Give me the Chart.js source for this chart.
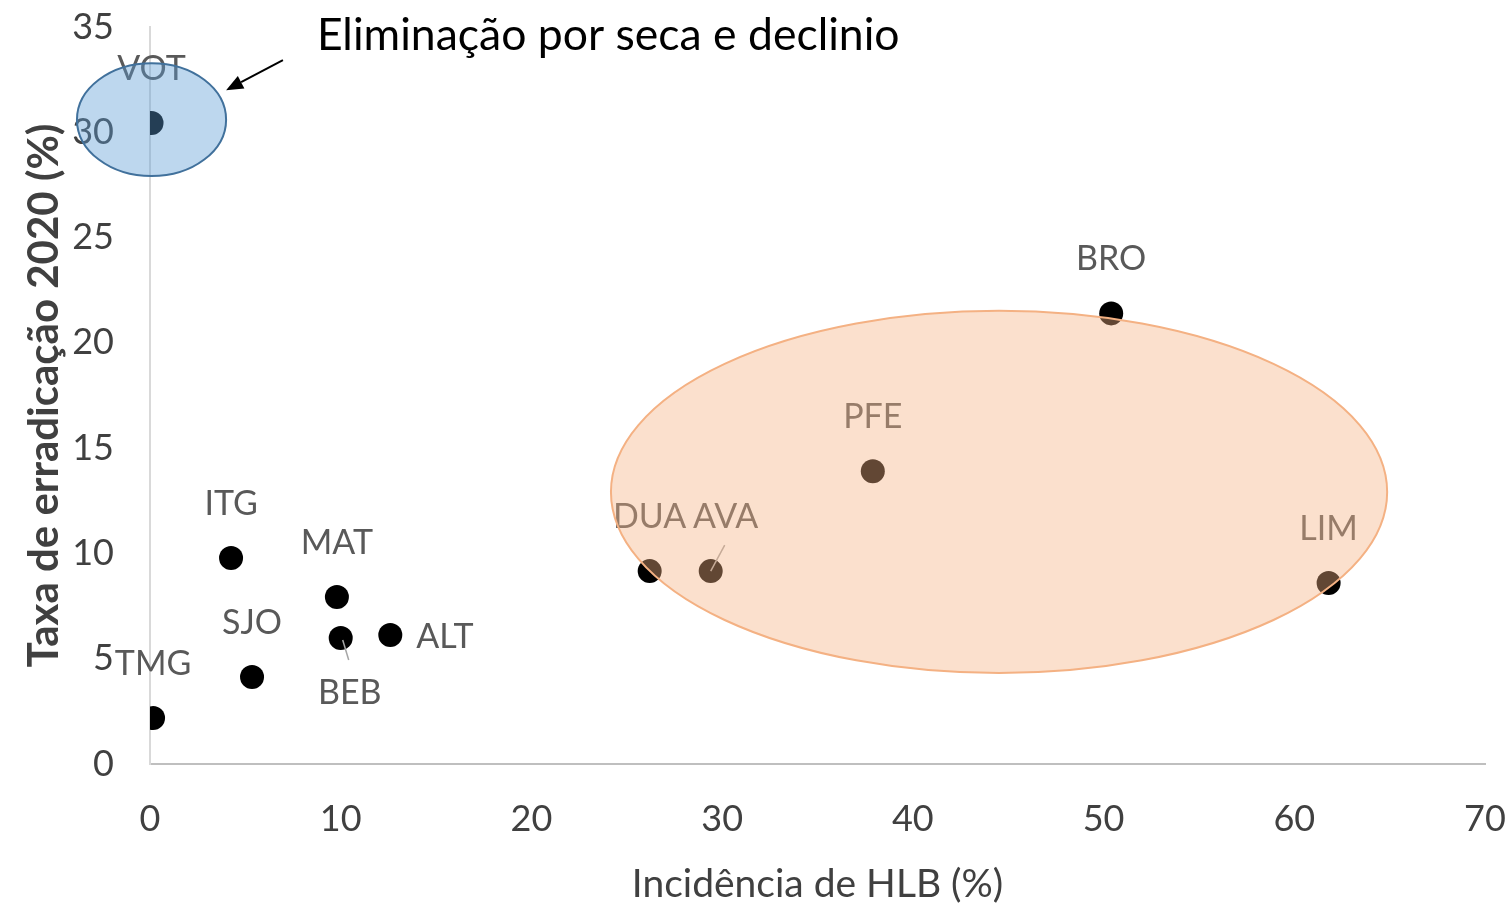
<!DOCTYPE html>
<html>
<head>
<meta charset="utf-8">
<script src="https://cdn.jsdelivr.net/npm/chart.js@4"></script>
<style>
  html, body { margin: 0; padding: 0; background: #ffffff; }
  #wrap { width: 1511px; height: 909px; }
</style>
</head>
<body>
<div id="wrap"><canvas id="c" width="1511" height="909"></canvas></div>
<script>
// ---- data ----
const siteLabels = ['VOT', 'TMG', 'ITG', 'SJO', 'MAT', 'BEB', 'ALT', 'DUA', 'AVA', 'PFE', 'BRO', 'LIM'];
const hlbIncidence = [0.08, 0.16, 4.25, 5.35, 9.8, 10.0, 12.6, 26.2, 29.4, 37.9, 50.4, 61.8];
const eradicationRate = [30.44, 2.18, 9.78, 4.13, 7.93, 5.98, 6.13, 9.16, 9.16, 13.9, 21.4, 8.6];
const xTicks = [0, 10, 20, 30, 40, 50, 60, 70];
const yTicks = [0, 5, 10, 15, 20, 25, 30, 35];
const xTitle = 'Incidência de HLB (%)';
const yTitle = 'Taxa de erradicação 2020 (%)';
const noteText = 'Eliminação por seca e declinio';

// label placement per point (style only)
const labelPlacement = ['above', 'above', 'above', 'above', 'above', 'below', 'right', 'above', 'above', 'above', 'above', 'above'];
const labelShiftX = [0, 0, 0, 0, 0, 9, 0, 0, 15, 0, 0, 0];
const leaderLine = [false, false, false, false, false, true, false, false, true, false, false, false];

// highlighted regions (data units): center x, center y, radius x, radius y
const droughtRegion = { cx: 0.08, cy: 30.6, rx: 3.91, ry: 2.68 };
const hlbRegion = { cx: 44.52, cy: 12.92, rx: 20.35, ry: 8.6 };
// arrow (data units)
const arrowFrom = { x: 6.97, y: 33.43 };
const arrowTo = { x: 3.99, y: 32.0 };
const notePos = { x: 8.75, y: 34.6 };

const FONT = 'Lato, "Open Sans", sans-serif';

const overlayPlugin = {
  id: 'overlay',
  afterDatasetsDraw(chart) {
    const ctx = chart.ctx;
    const xs = chart.scales.x, ys = chart.scales.y;
    const meta = chart.getDatasetMeta(0);
    ctx.save();
    // data labels
    ctx.font = '34px ' + FONT;
    ctx.fillStyle = '#595959';
    ctx.textBaseline = 'middle';
    meta.data.forEach((pt, i) => {
      const px = pt.x, py = pt.y;
      const pl = labelPlacement[i];
      let tx = px + labelShiftX[i], ty;
      if (pl === 'right') {
        ctx.textAlign = 'left';
        tx = px + 26; ty = py + 2;
      } else if (pl === 'below') {
        ctx.textAlign = 'center';
        ty = py + 55;
      } else {
        ctx.textAlign = 'center';
        ty = py - 54;
      }
      ctx.fillText(siteLabels[i], tx, ty);
      if (leaderLine[i]) {
        ctx.strokeStyle = '#a6a6a6';
        ctx.lineWidth = 1.5;
        ctx.beginPath();
        if (pl === 'below') {
          ctx.moveTo(px + 2, py + 2);
          ctx.lineTo(px + 8, py + 22);
        } else {
          ctx.moveTo(px, py);
          ctx.lineTo(px + 14, py - 26);
        }
        ctx.stroke();
      }
    });
    // ellipses
    const drawEllipse = (r, fill, stroke) => {
      const cx = xs.getPixelForValue(r.cx), cy = ys.getPixelForValue(r.cy);
      const rx = Math.abs(xs.getPixelForValue(r.cx + r.rx) - cx);
      const ry = Math.abs(ys.getPixelForValue(r.cy + r.ry) - cy);
      ctx.beginPath();
      ctx.ellipse(cx, cy, rx, ry, 0, 0, Math.PI * 2);
      ctx.fillStyle = fill;
      ctx.fill();
      ctx.strokeStyle = stroke;
      ctx.lineWidth = 2;
      ctx.stroke();
    };
    drawEllipse(droughtRegion, 'rgba(91,155,213,0.4)', '#41719C');
    drawEllipse(hlbRegion, 'rgba(244,177,131,0.4)', '#F4B183');
    // arrow
    const ax0 = xs.getPixelForValue(arrowFrom.x), ay0 = ys.getPixelForValue(arrowFrom.y);
    const ax1 = xs.getPixelForValue(arrowTo.x), ay1 = ys.getPixelForValue(arrowTo.y);
    const ang = Math.atan2(ay1 - ay0, ax1 - ax0);
    const headLen = 17, headW = 7;
    const bx = ax1 - headLen * Math.cos(ang), by = ay1 - headLen * Math.sin(ang);
    ctx.strokeStyle = '#000';
    ctx.lineWidth = 2;
    ctx.beginPath();
    ctx.moveTo(ax0, ay0);
    ctx.lineTo(bx, by);
    ctx.stroke();
    ctx.fillStyle = '#000';
    ctx.beginPath();
    ctx.moveTo(ax1, ay1);
    ctx.lineTo(bx + headW * Math.sin(ang), by - headW * Math.cos(ang));
    ctx.lineTo(bx - headW * Math.sin(ang), by + headW * Math.cos(ang));
    ctx.closePath();
    ctx.fill();
    // note text
    ctx.font = '44.5px ' + FONT;
    ctx.fillStyle = '#000';
    ctx.textAlign = 'left';
    ctx.textBaseline = 'middle';
    ctx.fillText(noteText, xs.getPixelForValue(notePos.x), ys.getPixelForValue(notePos.y));
    ctx.restore();
  }
};

const chart = new Chart(document.getElementById('c'), {
  type: 'scatter',
  data: {
    datasets: [{
      data: hlbIncidence.map((x, i) => ({ x: x, y: eradicationRate[i] })),
      backgroundColor: '#000000',
      borderColor: '#000000',
      borderWidth: 0,
      pointRadius: 12,
      pointHoverRadius: 12
    }]
  },
  options: {
    responsive: false,
    animation: false,
    events: [],
    layout: { padding: 0 },
    plugins: { legend: { display: false }, tooltip: { enabled: false } },
    scales: {
      x: {
        type: 'linear',
        min: xTicks[0], max: xTicks[xTicks.length - 1],
        afterBuildTicks: s => { s.ticks = xTicks.map(v => ({ value: v })); },
        afterFit: s => { s.height = 145; s.paddingLeft = 0; s.paddingRight = 26; },
        ticks: { color: '#404040', font: { family: FONT, size: 36 }, padding: 34, maxRotation: 0 },
        grid: { display: false, drawTicks: false },
        border: { display: true, color: '#bfbfbf', width: 2 },
        title: { display: true, text: xTitle, color: '#404040', font: { family: FONT, size: 39 }, padding: { top: 0, bottom: 1 } }
      },
      y: {
        type: 'linear',
        min: yTicks[0], max: yTicks[yTicks.length - 1],
        afterBuildTicks: s => { s.ticks = yTicks.map(v => ({ value: v })); },
        afterFit: s => { s.width = 150; s.paddingTop = 27; s.paddingBottom = 0; },
        ticks: { color: '#404040', font: { family: FONT, size: 36 }, padding: 36 },
        grid: { display: false, drawTicks: false },
        border: { display: true, color: '#d9d9d9', width: 2 },
        title: { display: true, text: yTitle, color: '#404040', font: { family: FONT, size: 42, weight: 'bold' }, padding: { top: 19, bottom: 0 } }
      }
    }
  },
  plugins: [overlayPlugin]
});
</script>
</body>
</html>
